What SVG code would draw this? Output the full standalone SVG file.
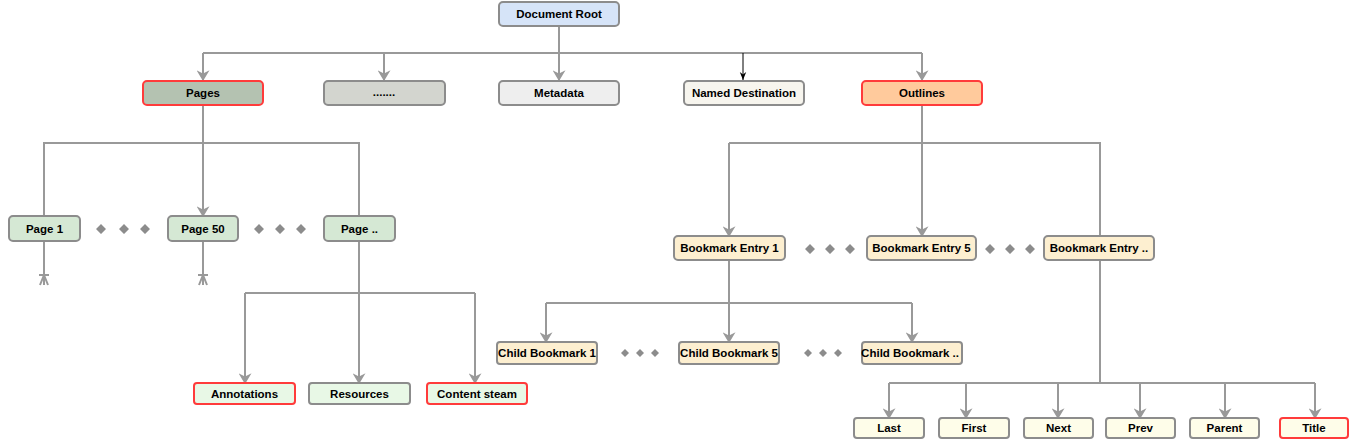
<svg xmlns="http://www.w3.org/2000/svg" width="1350" height="439" viewBox="0 0 1350 439">
<defs>
<style>
.n{stroke:#8c8c8c;stroke-width:2}
.r{stroke:#ff3b3b;stroke-width:2}
text{font-family:"Liberation Sans",Arial,sans-serif;font-size:11.5px;font-weight:bold;fill:#000;text-anchor:middle;dominant-baseline:central}
.c{fill:none;stroke:#999;stroke-width:2}
.d{fill:#8c8c8c}
</style>
<marker id="a" viewBox="0 0 10 12" refX="9" refY="6" markerWidth="11" markerHeight="13" markerUnits="userSpaceOnUse" orient="auto"><path d="M0,0 L10,6 L0,12 L3,6 z" fill="#999"/></marker>
<marker id="b" viewBox="0 0 10 10" refX="10" refY="5" markerWidth="8" markerHeight="8" markerUnits="userSpaceOnUse" orient="auto"><path d="M0,1 L10,5 L0,9 L3,5 z" fill="#000"/></marker>
</defs>
<rect width="1350" height="439" fill="#fff"/>
<g id="connectors">
<path class="c" d="M559,26 V53"/>
<path class="c" d="M203,53 H922"/>
<path class="c" d="M203,53 V80" marker-end="url(#a)"/>
<path class="c" d="M384,53 V80" marker-end="url(#a)"/>
<path class="c" d="M559,53 V80" marker-end="url(#a)"/>
<path class="c" d="M922,53 V80" marker-end="url(#a)"/>
<path d="M743,53 V80" fill="none" stroke="#000" stroke-width="1" marker-end="url(#b)"/>
<path class="c" d="M203,105 V143" stroke-width="2.5"/>
<path class="c" d="M44,216 V143 H359 V216"/>
<path class="c" d="M203,143 V216" marker-end="url(#a)"/>
<path class="c" d="M44,241 V285 M39,275 H49 M44,275 L40,285 M44,275 L48,285" stroke-width="1.5"/>
<path class="c" d="M203,241 V285 M198,275 H208 M203,275 L199,285 M203,275 L207,285" stroke-width="1.5"/>
<path class="c" d="M359,241 V293"/>
<path class="c" d="M245,293 H475"/>
<path class="c" d="M245,293 V383" marker-end="url(#a)"/>
<path class="c" d="M359,293 V383" marker-end="url(#a)"/>
<path class="c" d="M475,293 V383" marker-end="url(#a)"/>
<path class="c" d="M922,105 V143"/>
<path class="c" d="M729,143 H1100 V236"/>
<path class="c" d="M729,143 V236" marker-end="url(#a)"/>
<path class="c" d="M922,143 V236" marker-end="url(#a)"/>
<path class="c" d="M729,260 V303"/>
<path class="c" d="M546,303 H912"/>
<path class="c" d="M546,303 V342" marker-end="url(#a)"/>
<path class="c" d="M729,303 V342" marker-end="url(#a)"/>
<path class="c" d="M912,303 V342" marker-end="url(#a)"/>
<path class="c" d="M1100,260 V383"/>
<path class="c" d="M889,383 H1315"/>
<path class="c" d="M889,383 V418" marker-end="url(#a)"/>
<path class="c" d="M966,383 V418" marker-end="url(#a)"/>
<path class="c" d="M1058,383 V418" marker-end="url(#a)"/>
<path class="c" d="M1140,383 V418" marker-end="url(#a)"/>
<path class="c" d="M1225,383 V418" marker-end="url(#a)"/>
<path class="c" d="M1315,383 V418" marker-end="url(#a)"/>
</g>
<g id="dots">
<path class="d" d="M101,224l5,5l-5,5l-5,-5z M124,224l5,5l-5,5l-5,-5z M145,224l5,5l-5,5l-5,-5z"/>
<path class="d" d="M259,224l5,5l-5,5l-5,-5z M280,224l5,5l-5,5l-5,-5z M301,224l5,5l-5,5l-5,-5z"/>
<path class="d" d="M810,244l5,5l-5,5l-5,-5z M830,244l5,5l-5,5l-5,-5z M850,244l5,5l-5,5l-5,-5z"/>
<path class="d" d="M990,244l5,5l-5,5l-5,-5z M1010,244l5,5l-5,5l-5,-5z M1030,244l5,5l-5,5l-5,-5z"/>
<path class="d" d="M625,349l4,4l-4,4l-4,-4z M640,349l4,4l-4,4l-4,-4z M655,349l4,4l-4,4l-4,-4z"/>
<path class="d" d="M808,349l4,4l-4,4l-4,-4z M823,349l4,4l-4,4l-4,-4z M838,349l4,4l-4,4l-4,-4z"/>
</g>
<g id="n-root"><rect class="n" x="499" y="2" width="120" height="24" rx="4" fill="#d6e4f8"/><text x="559" y="14">Document Root</text></g>
<g id="n-pages"><rect class="r" x="143" y="81" width="120" height="24" rx="4" fill="#b4c2b1"/><text x="203" y="93">Pages</text></g>
<g id="n-etc"><rect class="n" x="324" y="81" width="121" height="24" rx="4" fill="#d3d5cf"/><text x="384" y="92">.......</text></g>
<g id="n-meta"><rect class="n" x="499" y="81" width="120" height="24" rx="4" fill="#eeeeee"/><text x="559" y="93">Metadata</text></g>
<g id="n-named"><rect class="n" x="684" y="81" width="120" height="24" rx="4" fill="#f7f5ee"/><text x="744" y="93">Named Destination</text></g>
<g id="n-outlines"><rect class="r" x="862" y="81" width="120" height="24" rx="4" fill="#ffca9c"/><text x="922" y="93">Outlines</text></g>
<g id="n-page1"><rect class="n" x="9" y="216" width="71" height="25" rx="4" fill="#d5e8d4"/><text x="44.5" y="228.5">Page 1</text></g>
<g id="n-page50"><rect class="n" x="168" y="216" width="70" height="25" rx="4" fill="#d5e8d4"/><text x="203" y="228.5">Page 50</text></g>
<g id="n-pagen"><rect class="n" x="324" y="216" width="71" height="25" rx="4" fill="#d5e8d4"/><text x="359.5" y="228.5">Page ..</text></g>
<g id="n-annot"><rect class="r" x="194" y="383" width="101" height="21" rx="3" fill="#e8f8e6"/><text x="244.5" y="393.5">Annotations</text></g>
<g id="n-res"><rect class="n" x="309" y="383" width="101" height="21" rx="3" fill="#e8f8e6"/><text x="359.5" y="393.5">Resources</text></g>
<g id="n-content"><rect class="r" x="427" y="383" width="100" height="21" rx="3" fill="#e8f8e6"/><text x="477" y="393.5">Content steam</text></g>
<g id="n-be1"><rect class="n" x="674" y="236" width="111" height="24" rx="4" fill="#fdefd0"/><text x="729.5" y="248">Bookmark Entry 1</text></g>
<g id="n-be5"><rect class="n" x="867" y="236" width="109" height="24" rx="4" fill="#fdefd0"/><text x="921.5" y="248">Bookmark Entry 5</text></g>
<g id="n-ben"><rect class="n" x="1044" y="236" width="110" height="24" rx="4" fill="#fdefd0"/><text x="1099" y="248">Bookmark Entry ..</text></g>
<g id="n-cb1"><rect class="n" x="497" y="342" width="100" height="22" rx="3" fill="#fdefd0"/><text x="547" y="353">Child Bookmark 1</text></g>
<g id="n-cb5"><rect class="n" x="679" y="342" width="100" height="22" rx="3" fill="#fdefd0"/><text x="729" y="353">Child Bookmark 5</text></g>
<g id="n-cbn"><rect class="n" x="862" y="342" width="100" height="22" rx="3" fill="#fdefd0"/><text x="910" y="353">Child Bookmark ..</text></g>
<g id="n-last"><rect class="n" x="854" y="418" width="70" height="20" rx="3" fill="#fefde9"/><text x="889" y="428">Last</text></g>
<g id="n-first"><rect class="n" x="939" y="418" width="70" height="20" rx="3" fill="#fefde9"/><text x="974" y="428">First</text></g>
<g id="n-next"><rect class="n" x="1024" y="418" width="69" height="20" rx="3" fill="#fefde9"/><text x="1058.5" y="428">Next</text></g>
<g id="n-prev"><rect class="n" x="1106" y="418" width="69" height="20" rx="3" fill="#fefde9"/><text x="1140.5" y="428">Prev</text></g>
<g id="n-parent"><rect class="n" x="1190" y="418" width="69" height="20" rx="3" fill="#fefde9"/><text x="1224.5" y="428">Parent</text></g>
<g id="n-title"><rect class="r" x="1280" y="418" width="68" height="20" rx="3" fill="#fefde9"/><text x="1314" y="428">Title</text></g>
</svg>
